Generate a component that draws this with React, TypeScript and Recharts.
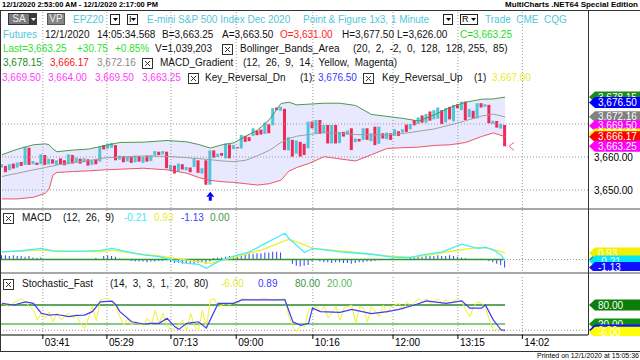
import {
  Area,
  Bar,
  Cell,
  ComposedChart,
  Line,
  ReferenceDot,
  ReferenceLine,
  XAxis,
  YAxis,
} from "recharts";

const FONT = '"Liberation Sans", Arial, sans-serif';
const X_DOMAIN: [number, number] = [-0.5, 149.1];

// point & figure columns, [low, high]
const columns: [number, number][] = [
  [3656.8, 3657.8], [3655.4, 3657.3], [3656.0, 3657.8], [3656.5, 3658.0], [3656.8, 3658.3],
  [3657.3, 3658.5], [3657.6, 3663.1], [3657.6, 3662.8], [3657.8, 3658.8], [3657.6, 3658.3],
  [3657.8, 3660.8], [3657.6, 3660.6], [3657.8, 3659.5], [3658.0, 3659.3], [3657.6, 3659.0],
  [3657.8, 3659.6], [3657.5, 3659.0], [3657.8, 3660.8], [3658.0, 3660.6], [3658.3, 3659.8],
  [3658.0, 3659.5], [3658.4, 3659.6], [3657.4, 3659.3], [3657.6, 3659.0], [3657.8, 3659.4],
  [3658.6, 3663.1], [3662.3, 3663.6], [3662.5, 3664.1], [3662.8, 3664.3], [3659.0, 3663.6],
  [3659.2, 3660.4], [3658.4, 3660.3], [3658.6, 3660.0], [3658.2, 3660.3], [3658.4, 3660.4],
  [3658.6, 3660.3], [3658.2, 3660.0], [3658.6, 3660.4], [3658.8, 3660.5], [3660.4, 3661.8],
  [3660.6, 3661.6], [3660.8, 3661.8], [3656.6, 3661.6], [3656.0, 3657.6], [3655.0, 3657.4],
  [3655.6, 3658.0], [3656.2, 3657.8], [3656.0, 3657.0], [3655.4, 3656.8], [3657.0, 3659.6],
  [3655.2, 3659.0], [3655.0, 3656.6], [3651.6, 3659.0], [3651.6, 3662.0], [3659.8, 3662.0],
  [3660.0, 3661.0], [3660.4, 3661.2], [3659.6, 3664.1], [3659.6, 3663.8], [3662.4, 3663.6],
  [3662.6, 3663.0], [3662.6, 3666.7], [3664.6, 3666.4], [3664.8, 3666.0], [3666.4, 3668.7],
  [3666.6, 3668.0], [3666.8, 3668.3], [3667.0, 3670.4], [3667.2, 3669.9], [3669.6, 3674.8],
  [3674.2, 3675.0], [3674.0, 3675.2], [3662.1, 3674.6], [3662.0, 3666.0], [3660.1, 3665.2],
  [3661.0, 3665.0], [3660.1, 3664.6], [3660.6, 3664.0], [3662.6, 3670.7], [3668.7, 3670.7],
  [3667.2, 3671.2], [3667.0, 3671.2], [3667.2, 3669.7], [3664.1, 3669.7], [3664.1, 3669.7],
  [3664.1, 3669.7], [3664.2, 3667.6], [3666.2, 3667.6], [3666.8, 3668.0], [3662.1, 3668.7],
  [3664.5, 3665.6], [3664.7, 3665.5], [3665.2, 3668.7], [3665.2, 3668.7], [3664.8, 3667.2],
  [3663.6, 3669.2], [3664.0, 3669.2], [3665.6, 3667.2], [3665.4, 3667.4], [3665.2, 3667.2],
  [3666.4, 3668.4], [3666.4, 3667.8], [3667.4, 3668.4], [3667.6, 3669.8], [3668.4, 3670.0],
  [3669.6, 3671.2], [3670.0, 3672.0], [3670.4, 3672.6], [3670.4, 3673.0], [3671.0, 3673.8],
  [3671.4, 3674.2], [3671.6, 3675.0], [3670.0, 3674.2], [3670.5, 3674.8], [3671.4, 3675.2],
  [3670.8, 3675.8], [3674.8, 3676.0], [3674.2, 3676.8], [3671.2, 3676.8], [3672.0, 3674.6],
  [3671.6, 3674.0], [3671.7, 3676.3], [3675.0, 3676.3], [3675.2, 3676.0], [3670.2, 3675.8],
  [3670.0, 3671.0], [3668.9, 3670.9], [3668.6, 3670.0], [3663.25, 3669.7],
];
// X = up column, O = down column
const columnTypes =
  "XOXOXOXOXO" + "XOXOXOOXOX" + "OXOXOXOXXO" + "XOXOXOXOXX" + "OXOXOXOXOX" +
  "OXOXOXOXOX" + "OXOOXOOXOX" + "OXOXOXOOXO" + "XOXOXOXOXO" + "XOXOXOXOXO" +
  "XOXOXOXOXO" + "XXOXOXOXOX" + "OXOXOXOXO";

const bandIdx = [0, 4, 8, 11, 12, 13, 14, 18, 22, 26, 30, 36, 42, 47, 50, 53, 56, 59, 62, 65, 68, 71, 73, 75, 78, 82, 86, 90, 94, 98, 102, 106, 110, 114, 118, 122, 125, 128];
const bandUpper = [3660.7, 3662.4, 3663.7, 3664.0, 3663.7, 3662.4, 3661.6, 3662.1, 3662.4, 3663.4, 3664.4, 3664.5, 3665.0, 3664.6, 3663.8, 3662.7, 3663.7, 3664.3, 3666.3, 3668.1, 3671.3, 3676.2, 3676.6, 3675.8, 3676.0, 3676.3, 3676.3, 3675.6, 3672.9, 3672.3, 3671.7, 3670.9, 3672.8, 3675.0, 3676.6, 3677.5, 3677.6, 3678.15];
const bandMid = [3654.1, 3655.1, 3656.1, 3656.8, 3657.1, 3657.3, 3657.6, 3658.3, 3658.9, 3659.7, 3660.0, 3660.3, 3660.2, 3659.8, 3659.5, 3659.2, 3658.8, 3658.6, 3659.0, 3660.4, 3662.0, 3664.4, 3665.6, 3666.3, 3666.8, 3667.4, 3667.2, 3666.8, 3666.7, 3666.7, 3667.1, 3667.8, 3668.5, 3669.7, 3671.0, 3672.4, 3673.0, 3672.16];
const bandLower = [3647.3, 3647.3, 3647.8, 3649.0, 3650.3, 3654.6, 3655.3, 3655.6, 3655.8, 3656.1, 3656.3, 3656.6, 3656.1, 3655.1, 3653.8, 3652.9, 3652.5, 3652.3, 3651.9, 3651.5, 3651.9, 3653.0, 3655.7, 3656.8, 3658.0, 3660.1, 3659.4, 3658.8, 3660.7, 3662.6, 3662.8, 3663.0, 3663.5, 3663.7, 3664.4, 3666.2, 3667.3, 3666.17];

const macdHist = [
  0.6, 0.6, 0.5, 0.6, 0.5, 0.5, 0.4, 0.5, 0.3, 0.2,
  0.3, 0, 0, 0, 0, 0, 0, 0, 0, 0,
  0, 0, 0.1, 0, 0.2, 0, 0.5, 0.6, 0.5, 0.4,
  0.1, 0, 0, -0.2, -0.3, -0.3, -0.3, -0.4, -0.3, -0.3,
  -0.2, -0.2, -0.1, -0.4, -0.5, -0.5, -0.6, -0.5, -0.5, -0.6,
  -0.5, -0.4, -0.6, -0.3, 0.2, 0.3, 0.3, 0.4, 0.5, 0.5,
  0.6, 0.7, 0.7, 0.8, 0.8, 0.9, 0.9, 1.0, 1.0, 1.1,
  1.1, 1.0, 0, 0, -0.6, -0.9, -1.0, -0.9, -0.8, -0.3,
  0, -0.3, -0.4, -0.4, -0.5, -0.4, -0.4, -0.5, -0.5, -0.6,
  -0.5, -0.4, -0.4, -0.3, -0.3, -0.2, -0.1, 0, 0, 0.1,
  0, 0, 0.1, 0.1, 0.2, 0.3, 0.4, 0.4, 0.5, 0.5,
  0.5, 0.6, 0.5, 0.5, 0.6, 0.5, 0.4, 0.3, 0.2, 0.1,
  0, 0.1, 0.1, 0, -0.2, -0.4, -0.6, -0.8, -1.13,
];
const macdIdx = [0, 5, 8, 10, 13, 18, 21, 25, 28, 32, 36, 40, 45, 47, 50, 52, 55, 59, 63, 67, 72, 73, 77, 79, 81, 86, 94, 100, 104, 107, 112, 117, 121, 123, 125, 127, 128];
const macdLine = [1.1, 1.25, 1.45, 1.6, 1.2, 1.15, 1.2, 1.3, 1.6, 1.1, 0.65, 0.4, -0.3, -0.55, -0.7, -1.25, -0.3, 0.5, 1.1, 2.3, 3.75, 3.0, 1.0, 1.6, 1.45, 1.1, 0.75, 0.3, 0.3, 0.65, 1.1, 2.2, 1.6, 1.75, 1.35, 0.65, -0.21];
const signalIdx = [0, 10, 25, 28, 33, 40, 47, 53, 59, 66, 73, 76, 79, 89, 98, 104, 109, 115, 121, 124, 128];
const signalLine = [1.1, 1.35, 1.1, 1.35, 0.9, 0.5, -0.1, -0.55, 0.3, 1.35, 2.9, 2.3, 1.6, 1.1, 0.5, 0.3, 0.65, 1.25, 1.7, 1.6, 0.93];

const fastIdx = [0, 2, 3, 5, 6, 7, 8, 9, 10, 11, 12, 13, 14, 15, 17, 18, 19, 20, 21, 22, 23, 24, 25, 27, 28, 29, 30, 31, 32, 33, 34, 36, 37, 38, 39, 40, 41, 42, 43, 44, 46, 47, 48, 49, 50, 51, 52, 53, 54, 55, 57, 58, 59, 60, 61, 64, 67, 69, 72, 73, 74, 75, 76, 77, 78, 80, 81, 82, 83, 85, 86, 87, 89, 90, 91, 92, 93, 94, 96, 97, 98, 99, 101, 102, 103, 104, 106, 107, 108, 109, 111, 112, 113, 114, 116, 117, 118, 119, 120, 121, 122, 123, 124, 125, 126, 127, 128];
const fastK = [85, 75, 88, 100, 88, 75, 64, 33, 54, 38, 59, 27, 54, 33, 54, 38, 48, 22, 6, 38, 75, 30, 96, 100, 90, 75, 43, 16, 38, 16, 27, 16, 38, 16, 64, 22, 54, 16, 0, 6, 33, 0, 54, 11, 0, 64, 6, 96, 100, 75, 85, 80, 90, 85, 100, 96, 100, 94, 100, 43, 11, -5, 16, 11, 64, 75, 59, 75, 38, 75, 33, 70, 80, 22, 75, 70, 27, 75, 43, 80, 54, 75, 85, 64, 90, 75, 100, 90, 100, 85, 100, 85, 96, 85, 100, 90, 64, 43, 75, 90, 85, 75, 33, 0, 4, 2, -6];
const slowIdx = [0, 3, 6, 8, 10, 12, 14, 17, 19, 21, 23, 25, 28, 29, 30, 33, 36, 38, 40, 42, 44, 45, 47, 50, 52, 55, 59, 61, 67, 72, 74, 76, 78, 79, 81, 86, 89, 94, 98, 101, 105, 108, 113, 117, 119, 122, 123, 125, 127, 128];
const slowD = [85, 80, 90, 85, 54, 48, 50, 43, 47, 48, 59, 90, 92, 80, 59, 27, 20, 22, 22, 38, 11, 3, 22, 27, 7, 85, 85, 96, 96, 96, 27, 16, 22, 70, 59, 57, 66, 53, 59, 66, 80, 93, 85, 93, 70, 70, 80, 33, 1, 0.89];

const timeTicks = [10.4, 26.7, 43.0, 59.6, 79.1, 99.5, 116.0, 132.4];
const timeLabels = ["03:41", "05:29", "07:13", "09:00", "10:16", "12:00", "13:15", "14:02"];
const priceTicks = [3650, 3660];
const priceGrid = [3650, 3660, 3670];

const priceTags = [3678.15, 3676.5, 3672.16, 3669.5, 3667.0, 3666.17, 3663.25];
const priceTagColors = ["#1a8a1a", "#0000ff", "#808080", "#ff00ff", "#ffff00", "#ff0000", "#ff00ff"];
const macdTags = [0, 0.93, -0.21, -1.13];
const macdTagColors = ["#1a8a1a", "#f0f000", "#00e8f8", "#1010ff"];
const stochTags = [80, 20, 0.89, -6];
const stochTagColors = ["#0a7d0a", "#109010", "#1010ff", "#ffff00"];

const keyRevUp = 53;
const keyRevDn = 128;

const CYAN = "#52c7dc";
const MAG = "#ff3cff";
const GRID = "#9a9a9a";

function placeAt(n: number, idx: number[], vals: number[]) {
  const out: (number | null)[] = new Array(n).fill(null);
  idx.forEach((ix, k) => {
    out[ix] = vals[k];
  });
  return out;
}

function fmt(v: number) {
  return v.toLocaleString("en-US", { minimumFractionDigits: 2, maximumFractionDigits: 2 });
}

const N = columns.length;
const upArr = placeAt(N, bandIdx, bandUpper);
const midArr = placeAt(N, bandIdx, bandMid);
const lowArr = placeAt(N, bandIdx, bandLower);
const mainRows = columns.map((c, i) => ({
  i,
  range: c,
  up: upArr[i],
  mid: midArr[i],
  low: lowArr[i],
  band: upArr[i] == null ? null : [lowArr[i], upArr[i]],
}));

const macdArr = placeAt(N, macdIdx, macdLine);
const sigArr = placeAt(N, signalIdx, signalLine);
const macdRows = macdHist.map((h, i) => ({ i, hist: h, macd: macdArr[i], signal: sigArr[i] }));

const fastArr = placeAt(N, fastIdx, fastK);
const slowArr = placeAt(N, slowIdx, slowD);
const stochRows = columns.map((_, i) => ({ i, fast: fastArr[i], slow: slowArr[i] }));

function Tag(props: any) {
  const { viewBox, tagColor, tagText } = props;
  if (!viewBox) return null;
  const x0 = viewBox.x + viewBox.width + 1;
  const cy = viewBox.y;
  return (
    <g>
      <path
        d={`M${x0},${cy} L${x0 + 6},${cy - 5.5} L640,${cy - 5.5} L640,${cy + 5.5} L${x0 + 6},${cy + 5.5} Z`}
        fill={tagColor}
      />
      <text x={x0 + 9} y={cy + 3.6} fontSize={10} fill="#fff" fontFamily={FONT}>
        {tagText}
      </text>
    </g>
  );
}

function TimeTick(props: any) {
  const { x, y, payload } = props;
  const k = timeTicks.indexOf(payload.value);
  return (
    <text x={x + 2} y={y} dy="0.71em" fontSize={10} fill="#000" fontFamily={FONT} textAnchor="start">
      {timeLabels[k]}
    </text>
  );
}

function UpArrow(props: any) {
  const { cx, cy } = props;
  return (
    <g>
      <path d={`M${cx - 4},${cy + 12} L${cx},${cy + 7} L${cx + 4},${cy + 12} Z`} fill="#0000ff" />
      <rect x={cx - 1.5} y={cy + 12} width={3} height={4} fill="#0000ff" />
    </g>
  );
}

function DnMark(props: any) {
  const { cx, cy } = props;
  return (
    <polyline
      points={`${cx + 9},${cy - 4} ${cx + 4},${cy} ${cx + 9},${cy + 4}`}
      fill="none"
      stroke="#ff5c8a"
      strokeWidth={1}
    />
  );
}

function CheckBox({ x, top }: { x: number; top: number }) {
  return (
    <svg style={{ position: "absolute", left: x, top: top + 1 }} width={11} height={11}>
      <rect x={0.5} y={0.5} width={10} height={10} fill="#fff" stroke="#333" />
      <path d="M3 3 L8 8 M8 3 L3 8" stroke="#333" strokeWidth={1} />
    </svg>
  );
}

function Drop({ x, top, w, label }: { x: number; top: number; w: number; label?: string }) {
  return (
    <div
      style={{
        position: "absolute",
        left: x,
        top,
        width: w,
        height: 11,
        border: "1px solid #222",
        background: "#fff",
        boxSizing: "border-box",
        fontSize: 9,
        lineHeight: "9px",
      }}
    >
      {label && <span style={{ position: "absolute", left: 1, top: 0 }}>{label}</span>}
      <svg style={{ position: "absolute", right: 1, top: 3 }} width={5} height={4}>
        <path d="M0 0 L5 0 L2.5 3 Z" fill="#000" />
      </svg>
    </div>
  );
}

type Seg = { x: number; t: string; c?: string };

function Row({ top, segs }: { top: number; segs: Seg[] }) {
  return (
    <>
      {segs.map((s, k) =>
        s.t === "[x]" ? (
          <CheckBox key={k} x={s.x} top={top} />
        ) : (
          <span
            key={k}
            style={{ position: "absolute", left: s.x, top, color: s.c ?? "#111", whiteSpace: "pre" }}
          >
            {s.t}
          </span>
        )
      )}
    </>
  );
}

function gridLines() {
  return timeTicks.map((t) => (
    <ReferenceLine key={`vg${t}`} x={t} stroke={GRID} strokeDasharray="1 2" />
  ));
}

export default function App() {
  return (
    <div
      style={{
        position: "absolute",
        left: 0,
        top: 0,
        width: 640,
        height: 360,
        background: "#fff",
        overflow: "hidden",
        fontFamily: FONT,
        fontSize: 10,
        lineHeight: "12px",
        color: "#000",
      }}
    >
      {/* main pane */}
      <div style={{ position: "absolute", left: 0, top: 10 }}>
        <ComposedChart width={640} height={198} data={mainRows} margin={{ top: 0, right: 0, bottom: 0, left: 0 }}>
          <XAxis type="number" dataKey="i" domain={X_DOMAIN} hide allowDataOverflow />
          <YAxis
            orientation="right"
            width={52}
            domain={[3644.545, 3704.545]}
            ticks={priceTicks}
            tickFormatter={fmt}
            tick={{ fontSize: 10, fill: "#000" }}
            axisLine={false}
            tickLine={false}
            tickSize={4}
            tickMargin={2}
            allowDataOverflow
          />
          {priceGrid.map((p) => (
            <ReferenceLine key={`hg${p}`} y={p} stroke={GRID} strokeDasharray="1 2" />
          ))}
          {gridLines()}
          <Area
            dataKey="band"
            stroke="none"
            fill="#8080ff"
            fillOpacity={0.18}
            connectNulls
            isAnimationActive={false}
          />
          <Line dataKey="up" stroke="#4a9a4a" strokeWidth={1} dot={false} connectNulls isAnimationActive={false} />
          <Line dataKey="mid" stroke="#a0a0a0" strokeWidth={1} dot={false} connectNulls isAnimationActive={false} />
          <Line dataKey="low" stroke="#ee5566" strokeWidth={1} dot={false} connectNulls isAnimationActive={false} />
          <Bar dataKey="range" barSize={3} isAnimationActive={false}>
            {mainRows.map((r) => (
              <Cell key={r.i} fill={columnTypes[r.i] === "X" ? "#4ec6da" : "#ee2a55"} />
            ))}
          </Bar>
          <ReferenceDot x={keyRevUp} y={columns[keyRevUp][0]} r={0} shape={<UpArrow />} />
          <ReferenceDot x={keyRevDn} y={columns[keyRevDn][0]} r={0} shape={<DnMark />} />
          {priceTags.map((v, k) => (
            <ReferenceLine
              key={`pt${k}`}
              y={v}
              stroke="none"
              label={<Tag tagColor={priceTagColors[k]} tagText={fmt(v)} />}
            />
          ))}
        </ComposedChart>
      </div>

      {/* MACD pane */}
      <div style={{ position: "absolute", left: 0, top: 210 }}>
        <ComposedChart width={640} height={61} data={macdRows} margin={{ top: 0, right: 52, bottom: 0, left: 0 }}>
          <XAxis type="number" dataKey="i" domain={X_DOMAIN} hide allowDataOverflow />
          <YAxis domain={[-1.643, 7.071]} hide allowDataOverflow />
          {gridLines()}
          <ReferenceLine y={0} stroke={GRID} strokeDasharray="1 2" />
          <ReferenceLine
            segment={[
              { x: -0.5, y: 0 },
              { x: 128, y: 0 },
            ]}
            stroke="#2e9a2e"
            strokeWidth={1.5}
          />
          <Bar dataKey="hist" barSize={1} fill="#3c3cff" isAnimationActive={false} />
          <Line dataKey="signal" stroke="#eeee30" strokeWidth={1.3} dot={false} connectNulls isAnimationActive={false} />
          <Line dataKey="macd" stroke="#40eefc" strokeWidth={1.3} dot={false} connectNulls isAnimationActive={false} />
          {macdTags.map((v, k) => (
            <ReferenceLine
              key={`mt${k}`}
              y={v}
              stroke="none"
              label={<Tag tagColor={macdTagColors[k]} tagText={v.toFixed(2)} />}
            />
          ))}
        </ComposedChart>
      </div>

      {/* stochastic pane + time axis */}
      <div style={{ position: "absolute", left: 0, top: 275 }}>
        <ComposedChart width={640} height={77} data={stochRows} margin={{ top: 0, right: 52, bottom: 0, left: 0 }}>
          <XAxis
            type="number"
            dataKey="i"
            domain={X_DOMAIN}
            ticks={timeTicks}
            interval={0}
            height={17}
            tickSize={4}
            tickMargin={0}
            axisLine={{ stroke: "#000" }}
            tickLine={{ stroke: "#000" }}
            tick={<TimeTick />}
            allowDataOverflow
          />
          <YAxis domain={[-14.75, 174.7]} hide allowDataOverflow />
          {gridLines()}
          <ReferenceLine y={0} stroke={GRID} strokeDasharray="1 2" />
          <ReferenceLine
            segment={[
              { x: -0.5, y: 80 },
              { x: 128, y: 80 },
            ]}
            stroke="#2a8a2a"
            strokeWidth={1.3}
          />
          <ReferenceLine
            segment={[
              { x: -0.5, y: 20 },
              { x: 128, y: 20 },
            ]}
            stroke="#5cb85c"
            strokeWidth={1.3}
          />
          <Line dataKey="fast" stroke="#f2f22a" strokeWidth={1} dot={false} connectNulls isAnimationActive={false} />
          <Line dataKey="slow" stroke="#3c3cff" strokeWidth={1.2} dot={false} connectNulls isAnimationActive={false} />
          {stochTags.map((v, k) => (
            <ReferenceLine
              key={`st${k}`}
              y={v}
              stroke="none"
              label={<Tag tagColor={stochTagColors[k]} tagText={v.toFixed(2)} />}
            />
          ))}
        </ComposedChart>
      </div>

      {/* frame */}
      <div style={{ position: "absolute", left: 589, top: 336, width: 51, height: 15, background: "#fff" }} />
      <div style={{ position: "absolute", left: 0, top: 10, width: 640, height: 1, background: "#333" }} />
      <div style={{ position: "absolute", left: 0, top: 208, width: 640, height: 2, background: "#a8a8a8" }} />
      <div style={{ position: "absolute", left: 0, top: 272, width: 640, height: 2, background: "#a8a8a8" }} />
      <div style={{ position: "absolute", left: 588, top: 10, width: 1, height: 325, background: "#333" }} />
      <div style={{ position: "absolute", left: 0, top: 10, width: 1, height: 341, background: "#333" }} />
      <div style={{ position: "absolute", left: 0, top: 351, width: 640, height: 1, background: "#333" }} />

      {/* title bar */}
      <div style={{ position: "absolute", left: 2, top: 0, fontSize: 7.5, lineHeight: "9px", fontWeight: "bold" }}>
        12/1/2020 2:53:00 AM - 12/1/2020 2:17:00 PM
      </div>
      <div
        style={{ position: "absolute", right: 2, top: 0, fontSize: 8, lineHeight: "9px", fontWeight: "bold" }}
      >
        MultiCharts .NET64 Special Edition
      </div>
      <div style={{ position: "absolute", right: 1, top: 352, fontSize: 7, lineHeight: "8px" }}>
        Printed on 12/1/2020 at 15:05:36
      </div>

      {/* legend row 1 */}
      <div
        style={{
          position: "absolute",
          left: 8,
          top: 13,
          width: 22,
          height: 12,
          background: "#7b7b7b",
          border: "1px solid #333",
          boxSizing: "border-box",
          color: "#eee",
          textAlign: "center",
          lineHeight: "10px",
          fontSize: 10,
        }}
      >
        SA
      </div>
      <div
        style={{ position: "absolute", left: 30, top: 13, width: 7, height: 12, background: "#3a3a3a" }}
      >
        <svg style={{ position: "absolute", left: 1, top: 5 }} width={5} height={4}>
          <path d="M0 0 L5 0 L2.5 3 Z" fill="#fff" />
        </svg>
      </div>
      <div
        style={{
          position: "absolute",
          left: 47,
          top: 13,
          width: 18,
          height: 12,
          background: "#858585",
          border: "1px solid #555",
          boxSizing: "border-box",
          color: "#eee",
          textAlign: "center",
          lineHeight: "10px",
          fontSize: 10,
        }}
      >
        VP
      </div>
      <Drop x={110} top={14} w={10} />
      <Drop x={127} top={14} w={11} label="I" />
      <Drop x={443} top={14} w={10} />
      <Drop x={460} top={14} w={18} label="R" />
      <Row
        top={14}
        segs={[
          { x: 73, t: "EPZ20", c: CYAN },
          { x: 147, t: "E-mini S&P 500 Index Dec 2020", c: CYAN },
          { x: 303, t: "Point & Figure 1x3, 1 Minute", c: CYAN },
          { x: 485, t: "Trade  CME  CQG", c: CYAN },
        ]}
      />
      <Row
        top={28.5}
        segs={[
          { x: 3, t: "Futures", c: CYAN },
          { x: 45, t: "12/1/2020" },
          { x: 97, t: "14:05:34.568" },
          { x: 162, t: "B=3,663.25" },
          { x: 222, t: "A=3,663.50" },
          { x: 280, t: "O=3,631.00", c: "#ff2020" },
          { x: 342, t: "H=3,677.50" },
          { x: 397, t: "L=3,626.00" },
          { x: 460, t: "C=3,663.25", c: "#22e022" },
        ]}
      />
      <Row
        top={43}
        segs={[
          { x: 3, t: "Last=3,663.25", c: "#30e030" },
          { x: 77, t: "+30.75", c: "#30e030" },
          { x: 115, t: "+0.85%", c: "#30e030" },
          { x: 155, t: "V=1,039,203" },
          { x: 222, t: "[x]" },
          { x: 240, t: "Bollinger_Bands_Area" },
          { x: 353, t: "(20,  2,  -2,  0,  128,  128, 255,  85)" },
        ]}
      />
      <Row
        top={57}
        segs={[
          { x: 3, t: "3,678.15", c: "#1b8a1b" },
          { x: 50, t: "3,666.17", c: "#f02020" },
          { x: 97, t: "3,672.16", c: "#8a8a8a" },
          { x: 142, t: "[x]" },
          { x: 160, t: "MACD_Gradient" },
          { x: 243, t: "(12,  26,  9,  14,  Yellow,  Magenta)" },
        ]}
      />
      <Row
        top={72}
        segs={[
          { x: 2, t: "3,669.50", c: MAG },
          { x: 48, t: "3,664.00", c: MAG },
          { x: 95, t: "3,669.50", c: MAG },
          { x: 142, t: "3,663.25", c: MAG },
          { x: 188, t: "[x]" },
          { x: 205, t: "Key_Reversal_Dn" },
          { x: 300, t: "(1):" },
          { x: 318, t: "3,676.50", c: "#3a3aff" },
          { x: 363, t: "[x]" },
          { x: 382, t: "Key_Reversal_Up" },
          { x: 474, t: "(1)" },
          { x: 492, t: "3,667.00", c: "#eaea30" },
        ]}
      />
      <Row
        top={212}
        segs={[
          { x: 3, t: "[x]" },
          { x: 22, t: "MACD" },
          { x: 63, t: "(12,  26,  9)" },
          { x: 124, t: "-0.21", c: "#40e8f8" },
          { x: 154, t: "0.93", c: "#eaea30" },
          { x: 181, t: "-1.13", c: "#4040ff" },
          { x: 210, t: "0.00", c: "#3c963c" },
        ]}
      />
      <Row
        top={277.5}
        segs={[
          { x: 3, t: "[x]" },
          { x: 22, t: "Stochastic_Fast" },
          { x: 110, t: "(14,  3,  3,  1,  20,  80)" },
          { x: 221, t: "-6.00", c: "#eaea30" },
          { x: 258, t: "0.89", c: "#4040ff" },
          { x: 295, t: "80.00", c: "#3c963c" },
          { x: 327, t: "20.00", c: "#5cb85c" },
        ]}
      />
    </div>
  );
}
